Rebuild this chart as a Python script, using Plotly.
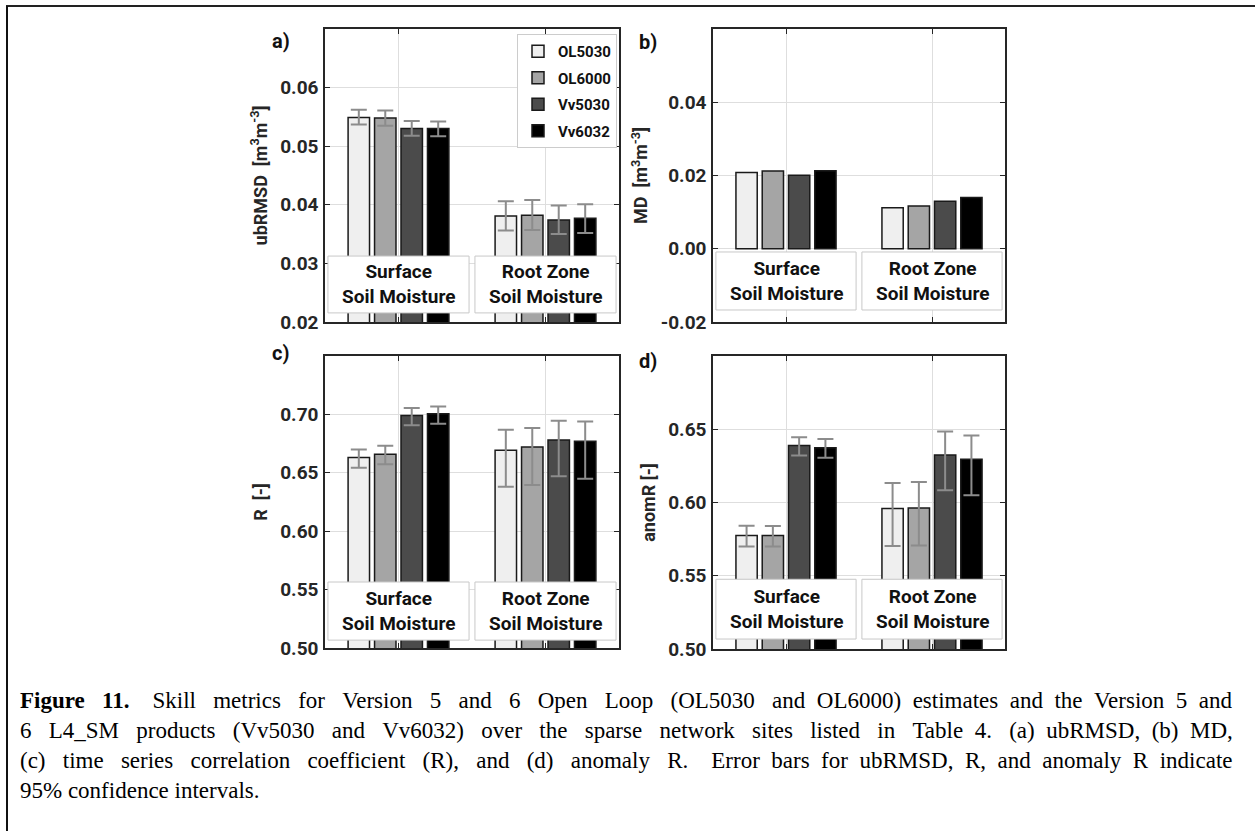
import plotly.graph_objects as go

# ---------------- data ----------------
series = ["OL5030", "OL6000", "Vv5030", "Vv6032"]
groups = ["Surface<br>Soil Moisture", "Root Zone<br>Soil Moisture"]
group_pos = [1, 2]

# ubRMSD [m3/m3] (per series: [surface, root zone])
ubrmsd_val = [[0.0549, 0.0381], [0.0548, 0.0382], [0.0530, 0.0374], [0.0530, 0.0377]]
ubrmsd_lo = [[0.0537, 0.0356], [0.0535, 0.0357], [0.0518, 0.0350], [0.0517, 0.0352]]
ubrmsd_hi = [[0.0562, 0.0406], [0.0561, 0.0408], [0.0543, 0.0399], [0.0542, 0.0401]]

# MD [m3/m3]
md_val = [[0.0208, 0.0112], [0.0212, 0.0117], [0.0201, 0.0130], [0.0213, 0.0140]]

# R [-]
r_val = [[0.6632, 0.6694], [0.6658, 0.6720], [0.6991, 0.6780], [0.7005, 0.6770]]
r_lo = [[0.6543, 0.6380], [0.6574, 0.6395], [0.6908, 0.6470], [0.6920, 0.6450]]
r_hi = [[0.6700, 0.6868], [0.6731, 0.6883], [0.7054, 0.6945], [0.7068, 0.6940]]

# anomaly R [-]
anom_val = [[0.5775, 0.5959], [0.5775, 0.5963], [0.6389, 0.6325], [0.6373, 0.6296]]
anom_lo = [[0.5700, 0.5703], [0.5700, 0.5707], [0.6320, 0.6083], [0.6305, 0.6049]]
anom_hi = [[0.5841, 0.6133], [0.5840, 0.6140], [0.6446, 0.6484], [0.6434, 0.6457]]

y_titles = ["ubRMSD  [m<sup>3</sup>m<sup>-3</sup>]", "MD  [m<sup>3</sup>m<sup>-3</sup>]",
            "R  [-]", "anomR [-]"]
y_ranges = [[0.02, 0.07], [-0.02, 0.06], [0.50, 0.75], [0.50, 0.70]]
y_ticks = [[0.02, 0.03, 0.04, 0.05, 0.06], [-0.02, 0.0, 0.02, 0.04],
           [0.50, 0.55, 0.60, 0.65, 0.70], [0.50, 0.55, 0.60, 0.65]]
panel_labels = ["a)", "b)", "c)", "d)"]

caption_lines = [
    "<b>Figure 11.</b>\u00a0 Skill metrics for Version 5 and 6 Open Loop (OL5030 and OL6000) estimates and the Version 5 and",
    "6 L4_SM products (Vv5030 and Vv6032) over the sparse network sites listed in Table 4.\u00a0 (a) ubRMSD, (b) MD,",
    "(c) time series correlation coefficient (R), and (d) anomaly R.\u00a0 Error bars for ubRMSD, R, and anomaly R indicate",
    "95% confidence intervals.",
]

# ---------------- style ----------------
W, H = 1255, 831
colors = ["#efefef", "#a5a5a5", "#4b4b4b", "#000000"]
FONT = "Roboto"
AX = "#262626"
GRID = "#dedede"
ERR = "#8c8c8c"
caption_extra_spaces = [31, 31, 28, 0]   # emulate justified text


def px_x(p):
    return p / W


def px_y(p):
    return 1 - p / H


def justify(line, extra):
    words = line.split(" ")
    gaps = len(words) - 1
    if extra <= 0 or gaps <= 0:
        return line
    out = words[0]
    for i, w in enumerate(words[1:]):
        k = extra // gaps + (1 if i < extra % gaps else 0)
        out += " " + "\u00a0" * k + w
    return out


# plot-area pixel boxes (left, right, top, bottom)
boxes = [(325, 619, 29, 322), (713, 1005, 29, 322), (325, 619, 356, 648), (713, 1005, 356, 649)]
cat_box_y = [(0.031, 0.225), (0.041, 0.239), (0.027, 0.226), (0.034, 0.238)]
label_pos = [(281, 41), (648, 42), (280, 353), (648, 361)]

fig = go.Figure()

metrics = [
    (ubrmsd_val, ubrmsd_lo, ubrmsd_hi),
    (md_val, None, None),
    (r_val, r_lo, r_hi),
    (anom_val, anom_lo, anom_hi),
]

for p, (vals, lo, hi) in enumerate(metrics):
    xa = "x" if p == 0 else f"x{p+1}"
    ya = "y" if p == 0 else f"y{p+1}"
    for s, name in enumerate(series):
        err = None
        if lo is not None:
            err = dict(type="data", symmetric=False,
                       array=[h - v for h, v in zip(hi[s], vals[s])],
                       arrayminus=[v - l for v, l in zip(vals[s], lo[s])],
                       color=ERR, thickness=2, width=8)
        fig.add_trace(go.Bar(
            x=group_pos, y=vals[s], name=name, xaxis=xa, yaxis=ya,
            marker=dict(color=colors[s], line=dict(color="#1a1a1a", width=1.5)),
            error_y=err, showlegend=(p == 0), legendgroup=name,
        ))

layout = dict(
    width=W, height=H, margin=dict(l=0, r=0, t=0, b=0, pad=0, autoexpand=False),
    paper_bgcolor="white", plot_bgcolor="white",
    barmode="group", bargap=0.28, bargroupgap=0.19,
    font=dict(family=FONT, color=AX, size=17, weight=700),
    legend=dict(x=px_x(617), y=px_y(34), xanchor="right", yanchor="top",
                bgcolor="white", bordercolor="#cccccc", borderwidth=1,
                font=dict(family=FONT, size=15, color="#111111", weight=700),
                tracegroupgap=4, traceorder="grouped"),
    shapes=[], annotations=[],
)

for p in range(4):
    l, r, t, b = boxes[p]
    xk = "xaxis" if p == 0 else f"xaxis{p+1}"
    yk = "yaxis" if p == 0 else f"yaxis{p+1}"
    xa = "x" if p == 0 else f"x{p+1}"
    ya = "y" if p == 0 else f"y{p+1}"
    layout[xk] = dict(domain=[px_x(l), px_x(r)], anchor=ya, range=[0.5, 2.5],
                      tickvals=group_pos, showticklabels=False, ticks="inside",
                      ticklen=5, tickcolor=AX, showgrid=True, gridcolor=GRID, gridwidth=1,
                      showline=True, linecolor=AX, linewidth=1.5, mirror="ticks",
                      zeroline=False, fixedrange=True, automargin=False)
    layout[yk] = dict(domain=[px_y(b), px_y(t)], anchor=xa, range=y_ranges[p],
                      tickvals=y_ticks[p], ticktext=["%.2f" % v for v in y_ticks[p]],
                      ticks="inside", ticklen=5,
                      tickcolor=AX, showgrid=True, gridcolor=GRID, gridwidth=1,
                      showline=True, linecolor=AX, linewidth=1.5, mirror="ticks",
                      zeroline=False, ticklabelstandoff=1, automargin=False,
                      tickfont=dict(family=FONT, size=19, color=AX, weight=700),
                      title=dict(text=y_titles[p], standoff=8,
                                 font=dict(family=FONT, size=18, color=AX, weight=700)))
    # category boxes
    y0, y1 = cat_box_y[p]
    for g, (gx, gtxt) in enumerate(zip(group_pos, groups)):
        layout["shapes"].append(dict(type="rect", xref=xa, yref=f"{ya} domain",
                                     x0=gx - 0.48, x1=gx + 0.48, y0=y0, y1=y1,
                                     fillcolor="white", line=dict(color="#c8c8c8", width=1),
                                     layer="above"))
        layout["annotations"].append(dict(x=gx, y=(y0 + y1) / 2, xref=xa, yref=f"{ya} domain",
                                          text=gtxt, showarrow=False, xanchor="center",
                                          yanchor="middle",
                                          font=dict(family=FONT, size=19, color="#111111", weight=700)))
    lx, ly = label_pos[p]
    layout["annotations"].append(dict(x=px_x(lx), y=px_y(ly), xref="paper", yref="paper",
                                      text=panel_labels[p], showarrow=False, xanchor="center",
                                      yanchor="middle",
                                      font=dict(family=FONT, size=20, color="#111111", weight=700)))

# figure frame lines (top and left)
layout["shapes"].append(dict(type="line", xref="paper", yref="paper", x0=px_x(6), x1=1,
                             y0=px_y(6), y1=px_y(6), line=dict(color="#222222", width=2)))
layout["shapes"].append(dict(type="line", xref="paper", yref="paper", x0=px_x(7), x1=px_x(7),
                             y0=px_y(6), y1=0, line=dict(color="#111111", width=2)))

# caption
for i, line in enumerate(caption_lines):
    layout["annotations"].append(dict(x=px_x(18), y=px_y(700 + 30.3 * i), xref="paper", yref="paper",
                                      text=justify(line, caption_extra_spaces[i]),
                                      showarrow=False, xanchor="left", yanchor="middle",
                                      font=dict(family="Liberation Serif", size=23, color="#000000",
                                                weight=400)))

fig.update_layout(**layout)
fig.write_html("out.html", config={"displayModeBar": False},
               post_script="document.body.style.margin='0px';")
